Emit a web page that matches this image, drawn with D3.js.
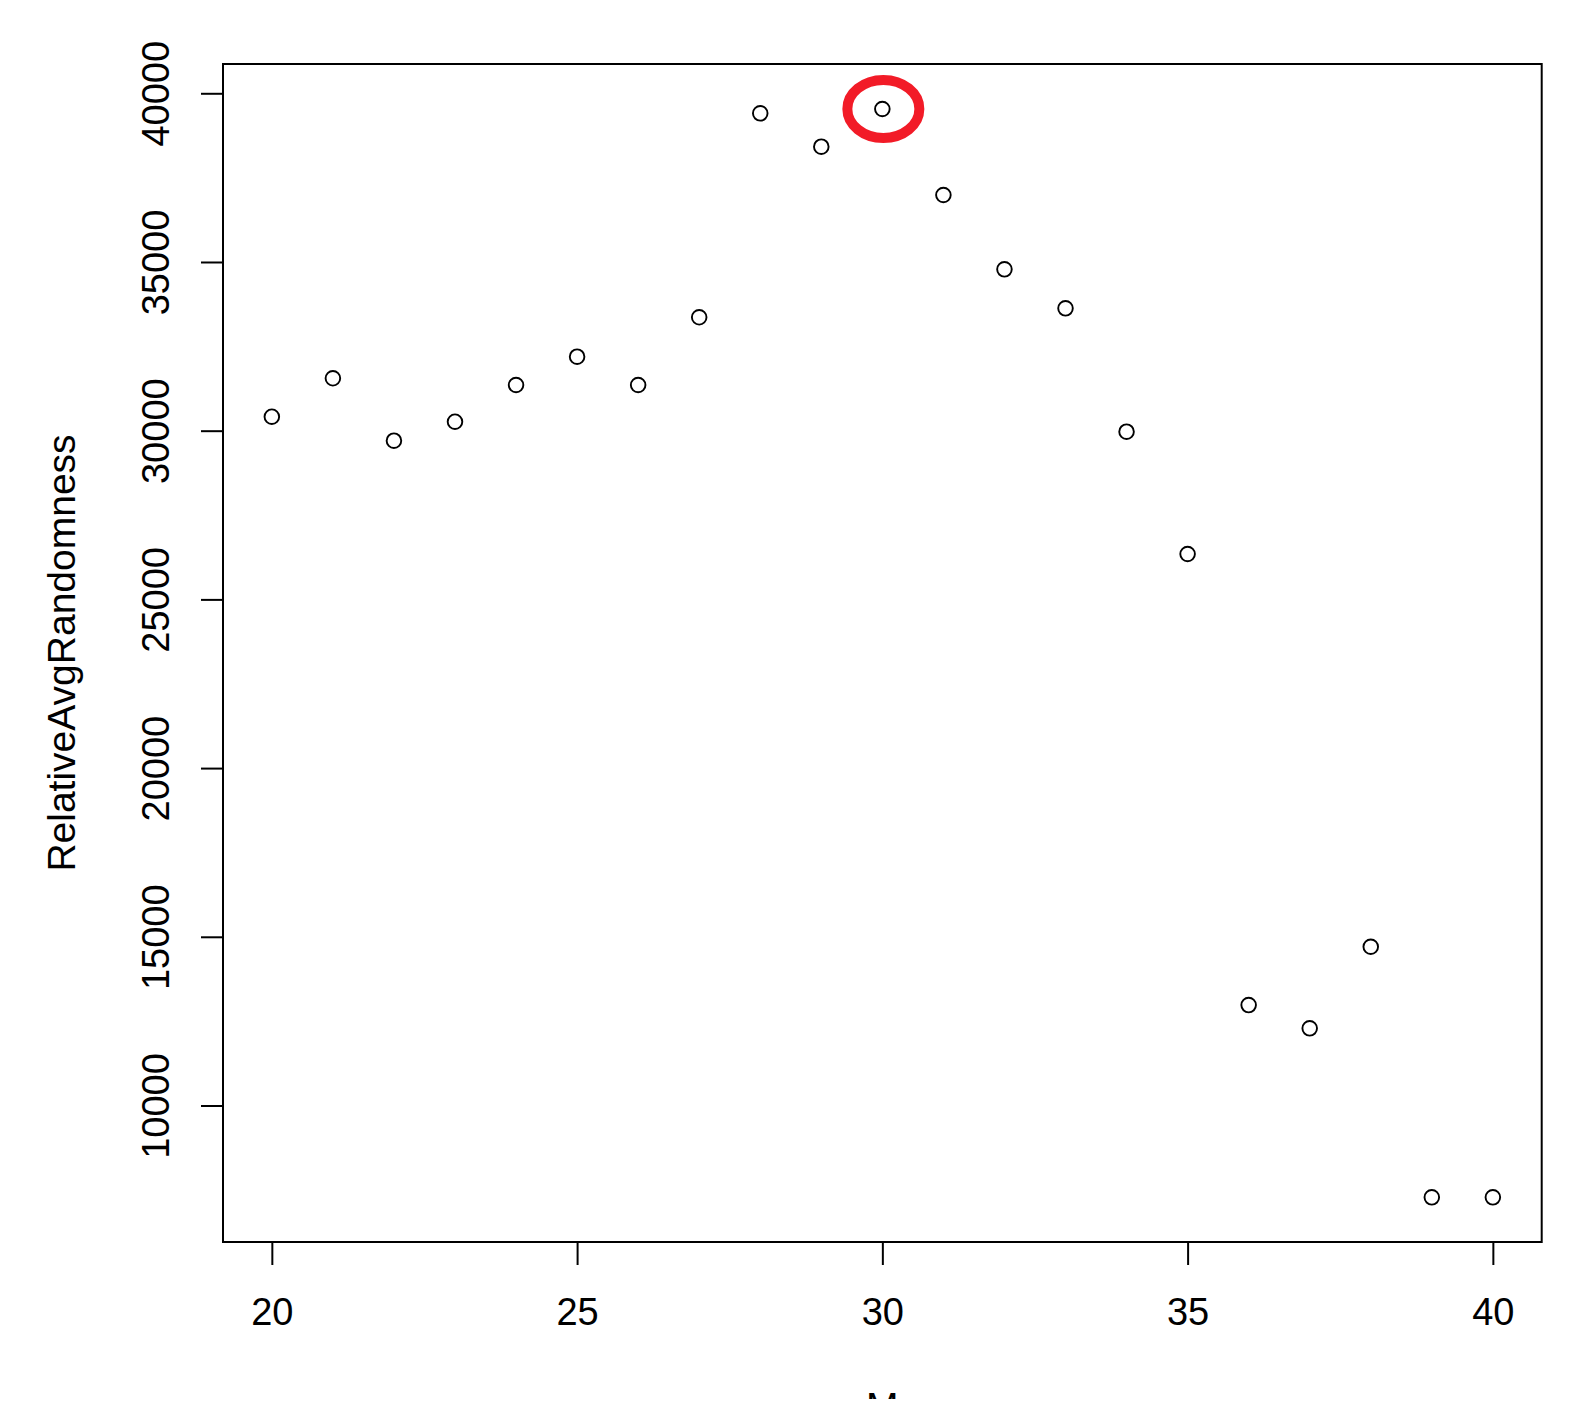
<!DOCTYPE html>
<html>
<head>
<meta charset="utf-8">
<script src="https://cdn.jsdelivr.net/npm/d3@7"></script>
<style>
  html, body { margin: 0; padding: 0; background: #ffffff; }
  svg { display: block; }
  text { font-family: "Liberation Sans", Arial, sans-serif; fill: #000; }
</style>
</head>
<body>
<svg id="chart" width="1593" height="1424"></svg>
<script>
// ---- data ----
const mValues = [20, 21, 22, 23, 24, 25, 26, 27, 28, 29, 30, 31, 32, 33, 34, 35, 36, 37, 38, 39, 40];
const randomness = [30414, 31553, 29703, 30266, 31354, 32193, 31354, 33361, 39407, 38417, 39535,
                    36986, 34783, 33627, 29970, 26345, 12977, 12287, 14705, 7277, 7277];
const xTicks = [20, 25, 30, 35, 40];
const yTicks = [10000, 15000, 20000, 25000, 30000, 35000, 40000];
const xTitle = "M";
const yTitle = "RelativeAvgRandomness";
const highlightM = 30;

// ---- layout ----
const W = 1593, H = 1424;
const plotL = 223, plotR = 1541.7, plotT = 64, plotB = 1242;

const svg = d3.select("#chart");
svg.append("rect").attr("width", W).attr("height", H).attr("fill", "#fff");

const x = d3.scaleLinear().domain([19.2, 40.8]).range([plotL, plotR]);
const y = d3.scaleLinear().domain([5954, 40868]).range([plotB, plotT]);

// box
svg.append("rect")
  .attr("x", plotL).attr("y", plotT)
  .attr("width", plotR - plotL).attr("height", plotB - plotT)
  .attr("fill", "none").attr("stroke", "#000").attr("stroke-width", 2);

// x axis
const xAxis = d3.axisBottom(x).tickValues(xTicks).tickSize(23).tickPadding(0).tickFormat(d3.format("d"));
const gx = svg.append("g").attr("transform", `translate(0,${plotB})`).call(xAxis);
gx.select(".domain").attr("d", `M${x(xTicks[0])},0H${x(xTicks[xTicks.length-1])}`).attr("stroke-width", 2);
gx.selectAll(".tick line").attr("stroke-width", 2);
gx.selectAll(".tick text")
  .attr("y", 83).attr("dy", null)
  .style("font-size", "38px").style("font-family", "'Liberation Sans', Arial, sans-serif")
  .attr("fill", "#000");

// y axis
const yAxis = d3.axisLeft(y).tickValues(yTicks).tickSize(22).tickFormat(d3.format("d"));
const gy = svg.append("g").attr("transform", `translate(${plotL},0)`).call(yAxis);
gy.select(".domain").attr("d", `M0,${y(yTicks[0])}V${y(yTicks[yTicks.length-1])}`).attr("stroke-width", 2);
gy.selectAll(".tick line").attr("stroke-width", 2);
gy.selectAll(".tick text")
  .attr("x", null).attr("dy", null)
  .attr("transform", "translate(-54,0) rotate(-90)")
  .attr("text-anchor", "middle")
  .style("font-size", "38px").style("font-family", "'Liberation Sans', Arial, sans-serif")
  .attr("fill", "#000");

// y title
svg.append("text")
  .attr("transform", `translate(75,${(plotT + plotB) / 2}) rotate(-90)`)
  .attr("text-anchor", "middle")
  .style("font-size", "39px")
  .text(yTitle);

// x title (cut off at bottom as in reference)
svg.append("clipPath").attr("id", "xclip")
  .append("rect").attr("x", 0).attr("y", 0).attr("width", W).attr("height", 1399);
svg.append("text")
  .attr("x", (plotL + plotR) / 2).attr("y", 1420)
  .attr("text-anchor", "middle")
  .attr("clip-path", "url(#xclip)")
  .style("font-size", "39px")
  .text(xTitle);

// points
svg.append("g").selectAll("circle")
  .data(mValues.map((m, i) => ({ m, v: randomness[i] })))
  .join("circle")
  .attr("cx", d => x(d.m))
  .attr("cy", d => y(d.v))
  .attr("r", 7.3)
  .attr("fill", "none")
  .attr("stroke", "#000")
  .attr("stroke-width", 1.9);

// red highlight ellipse
const hi = mValues.indexOf(highlightM);
svg.append("ellipse")
  .attr("cx", x(highlightM) + 1)
  .attr("cy", y(randomness[hi]))
  .attr("rx", 36).attr("ry", 29)
  .attr("fill", "none")
  .attr("stroke", "#f21b27")
  .attr("stroke-width", 10);
</script>
</body>
</html>
